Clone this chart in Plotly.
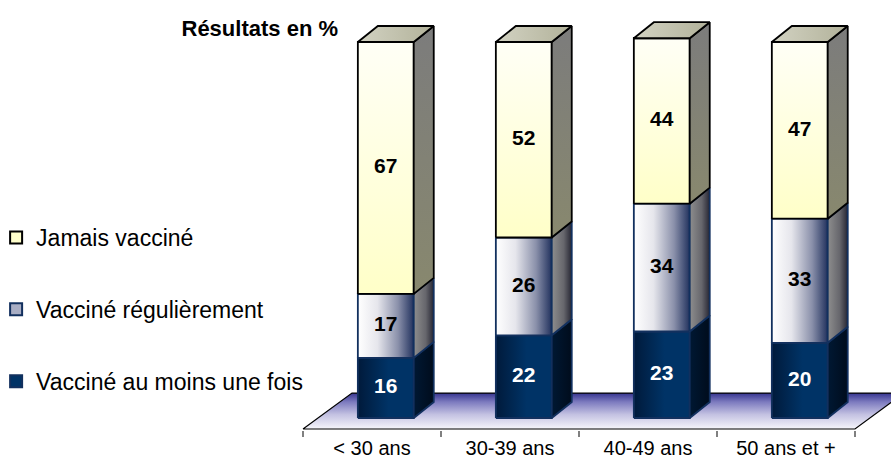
import plotly.graph_objects as go

# Data (percentages)
categories = ["< 30 ans", "30-39 ans", "40-49 ans", "50 ans et +"]
une_fois = [16, 22, 23, 20]
regulierement = [17, 26, 34, 33]
jamais = [67, 52, 44, 47]

series = [
    ("Vacciné au moins une fois", une_fois),
    ("Vacciné régulièrement", regulierement),
    ("Jamais vacciné", jamais),
]

# Styles for each series: legend colour, front gradient, side gradient, outline, label colour
styles = {
    "Vacciné au moins une fois": dict(
        color="#003366", rank=3,
        front=dict(type="horizontal", colorscale=[[0, "#001a3b"], [0.55, "#003366"], [1, "#003366"]]),
        side=dict(type="horizontal", colorscale=[[0, "#001833"], [1, "#000c1c"]]),
        line="#12305e", text="white"),
    "Vacciné régulièrement": dict(
        color="#a9aec4", rank=2,
        front=dict(type="horizontal", colorscale=[[0, "#ffffff"], [0.35, "#e6e6ec"], [0.72, "#8a90aa"], [1, "#22325e"]]),
        side=dict(type="horizontal", colorscale=[[0, "#8e8e8e"], [0.6, "#66666c"], [1, "#262633"]]),
        line="#12305e", text="black"),
    "Jamais vacciné": dict(
        color="#ffffcc", rank=1,
        front=dict(type="vertical", colorscale=[[0, "#ffffc8"], [1, "#fffff6"]]),
        side=dict(type="vertical", colorscale=[[0, "#88886e"], [1, "#7c7c7c"]]),
        line="black", text="black"),
}

# 3D geometry (axis units)
bar_width = 0.405
bar_shift = 0.10
depth_x, depth_y = 0.145, 4.26
floor_front_y = -2.93
floor_dx, floor_dy = 0.355, 9.57

x = list(range(len(categories)))
font = "Liberation Sans, Arial, sans-serif"

fig = go.Figure()

# Floor
fx0, fx1 = -0.5, len(categories) - 0.5
fig.add_trace(go.Scatter(
    x=[fx0, fx1, fx1 + floor_dx, fx0 + floor_dx, fx0],
    y=[floor_front_y, floor_front_y, floor_front_y + floor_dy, floor_front_y + floor_dy, floor_front_y],
    fill="toself", mode="lines", line=dict(color="black", width=1.2),
    fillgradient=dict(type="vertical",
                      colorscale=[[0, "#f6f6fb"], [0.4, "#c4c2e2"], [0.75, "#7d7bbf"], [1, "#36348f"]]),
    showlegend=False, hoverinfo="skip"))

# Front faces as stacked bars (give the legend entries)
for name, vals in series:
    st = styles[name]
    fig.add_trace(go.Bar(
        x=x, y=vals, name=name, legendgroup=name, legendrank=st["rank"],
        width=bar_width, offset=bar_shift - bar_width / 2,
        marker=dict(color=st["color"], line=dict(color=st["line"], width=2)),
        hoverinfo="skip"))

# Shading faces for each segment
base = [0] * len(categories)
for name, vals in series:
    st = styles[name]
    for i, v in enumerate(vals):
        b, t = base[i], base[i] + v
        x0 = x[i] + bar_shift - bar_width / 2
        x1 = x[i] + bar_shift + bar_width / 2
        # front
        fig.add_trace(go.Scatter(
            x=[x0, x1, x1, x0, x0], y=[b, b, t, t, b],
            fill="toself", mode="lines", line=dict(color=st["line"], width=1.8),
            fillgradient=st["front"], showlegend=False, hoverinfo="skip"))
        # side
        fig.add_trace(go.Scatter(
            x=[x1, x1 + depth_x, x1 + depth_x, x1, x1],
            y=[b, b + depth_y, t + depth_y, t, b],
            fill="toself", mode="lines", line=dict(color=st["line"], width=1.8),
            fillgradient=st["side"], showlegend=False, hoverinfo="skip"))
    base = [base[i] + vals[i] for i in range(len(vals))]

# Top faces
for i, t in enumerate(base):
    x0 = x[i] + bar_shift - bar_width / 2
    x1 = x[i] + bar_shift + bar_width / 2
    fig.add_trace(go.Scatter(
        x=[x0, x1, x1 + depth_x, x0 + depth_x, x0],
        y=[t, t, t + depth_y, t + depth_y, t],
        fill="toself", mode="lines", line=dict(color="black", width=1.8),
        fillgradient=dict(type="horizontal", colorscale=[[0, "#d2d2c2"], [1, "#b2b29a"]]),
        showlegend=False, hoverinfo="skip"))

# Value labels
base = [0] * len(categories)
for name, vals in series:
    fig.add_trace(go.Scatter(
        x=[xi + bar_shift for xi in x],
        y=[base[i] + vals[i] / 2 for i in range(len(vals))],
        mode="text", text=[str(v) for v in vals],
        textfont=dict(family=font, size=21, color=styles[name]["text"], weight="bold"),
        showlegend=False, hoverinfo="skip"))
    base = [base[i] + vals[i] for i in range(len(vals))]

fig.update_layout(
    width=891, height=461,
    margin=dict(l=290, r=0, t=20, b=31, autoexpand=False),
    plot_bgcolor="white", paper_bgcolor="white",
    barmode="stack",
    title=dict(text="<b>Résultats en %</b>", x=338 / 891, xanchor="right",
               y=1 - 28 / 461, yanchor="middle",
               font=dict(family=font, size=22, color="black")),
    xaxis=dict(
        range=[-0.5942, 3.761],
        tickvals=x, ticktext=categories, ticks="outside", ticklen=0,
        tickfont=dict(family=font, size=20, color="black"),
        minor=dict(tickvals=[-0.5, 0.5, 1.5, 2.5, 3.5], ticks="outside",
                   ticklen=6, tickwidth=2, tickcolor="#808080"),
        showgrid=False, zeroline=False, showline=False),
    yaxis=dict(range=[-3.19, 105.85], visible=False, showgrid=False, zeroline=False),
    legend=dict(
        x=-0.489, y=0.522, xanchor="left", yanchor="top",
        traceorder="grouped", tracegroupgap=39,
        font=dict(family=font, size=23, color="black"),
        bgcolor="rgba(0,0,0,0)"),
    showlegend=True,
)

fig.write_html("out.html", config={"displayModeBar": False},
               post_script="document.body.style.margin='0';")
